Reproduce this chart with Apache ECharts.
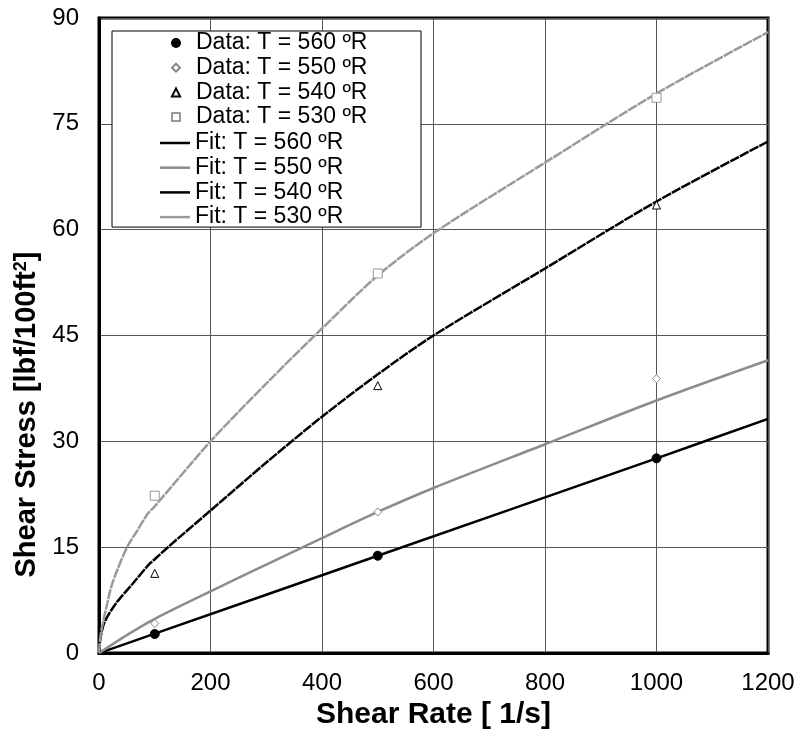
<!DOCTYPE html>
<html>
<head>
<meta charset="utf-8">
<script src="https://cdn.jsdelivr.net/npm/echarts@6/dist/echarts.min.js"></script>
<style>
  html, body { margin: 0; padding: 0; background: #fff; }
  #main { width: 799px; height: 735px; }
</style>
</head>
<body>
<div id="main"></div>
<script>
// measured points
const rateData = [100, 500, 1000];
const data560 = [2.7, 13.8, 27.6];
const data550 = [4.2, 20.0, 38.9];
const data540 = [11.3, 37.9, 63.5];
const data530 = [22.3, 53.8, 78.7];

// fitted curves
const rate560 = [0, 100, 500, 1000, 1200];
const fit560 = [0, 2.75, 13.8, 27.6, 33.2];

const rate550 = [0, 50, 100, 200, 300, 400, 500, 600, 800, 1000, 1200];
const fit550 = [0, 2.55, 4.85, 8.75, 12.55, 16.3, 20.0, 23.4, 29.6, 35.8, 41.5];

const rate540 = [0, 3, 10, 30, 60, 90, 100, 125, 200, 300, 400, 500, 600, 800, 1000, 1200];
const fit540 = [0, 2.3, 4.4, 7.0, 9.8, 12.6, 13.3, 15.1, 20.2, 27.0, 33.5, 39.5, 45.0, 54.5, 64.0, 72.5];

const rate530 = [0, 3, 7, 15, 22, 33, 51, 69, 87, 100, 200, 300, 400, 500, 600, 800, 1000, 1200];
const fit530 = [0, 2.6, 4.3, 7.1, 9.4, 11.8, 15.1, 17.4, 19.7, 20.8, 30.0, 38.2, 46.0, 53.5, 59.5, 69.5, 79.3, 88.0];

const dataNames = ['Data: T = 560 ºR', 'Data: T = 550 ºR', 'Data: T = 540 ºR', 'Data: T = 530 ºR'];
const fitNames = ['Fit: T = 560 ºR', 'Fit: T = 550 ºR', 'Fit: T = 540 ºR', 'Fit: T = 530 ºR'];

const xTicks = { min: 0, max: 1200, interval: 200 };
const yTicks = { min: 0, max: 90, interval: 15 };

const FONT = '"Liberation Sans", Arial, sans-serif';
const LINE_ICON = 'path://M0,0H24V2H0Z';

function pairs(xs, ys) {
  return xs.map((x, i) => [x, ys[i]]);
}

const chart = echarts.init(document.getElementById('main'), null, { renderer: 'canvas' });

const dataSeries = (name, ys, symbol, size, fill, border) => ({
  name: name,
  type: 'scatter',
  data: pairs(rateData, ys),
  symbol: symbol,
  symbolSize: size,
  z: 5,
  itemStyle: { color: fill, borderColor: border, borderWidth: 1, opacity: 1 }
});

const fitSeries = (name, xs, ys, color, width, dash) => ({
  name: name,
  type: 'line',
  data: pairs(xs, ys),
  showSymbol: false,
  symbol: 'none',
  smooth: 0.3,
  z: 3,
  itemStyle: { color: color },
  lineStyle: { color: color, width: width, type: dash || 'solid' }
});

const legendText = { fontSize: 23, lineHeight: 24, color: '#000', fontFamily: FONT };

chart.setOption({
  animation: false,
  backgroundColor: '#fff',
  textStyle: { fontFamily: FONT },
  grid: {
    left: 99, right: 31, top: 18, bottom: 72,
    show: true, borderColor: '#000', borderWidth: 3
  },
  legend: [
    {
      // data entries; its box also frames the fit entries below
      orient: 'vertical',
      left: 112, top: 31, z: 3,
      padding: [0, 45, 98, 59],
      itemWidth: 8, itemHeight: 8,
      itemGap: 0.7,
      backgroundColor: '#fff',
      borderColor: '#000', borderWidth: 1,
      textStyle: Object.assign({ padding: [0, 0, 0, 11], width: 180 }, legendText),
      data: [
        { name: dataNames[0], icon: 'circle' },
        { name: dataNames[1], icon: 'diamond' },
        { name: dataNames[2], icon: 'triangle' },
        { name: dataNames[3], icon: 'rect' }
      ]
    },
    {
      orient: 'vertical',
      left: 160, top: 131, z: 4,
      padding: 0,
      itemWidth: 30, itemHeight: 8,
      itemGap: 0.7,
      textStyle: legendText,
      data: fitNames.map(n => ({ name: n, icon: LINE_ICON }))
    }
  ],
  xAxis: {
    type: 'value',
    min: xTicks.min, max: xTicks.max, interval: xTicks.interval,
    name: 'Shear Rate [ 1/s]',
    nameLocation: 'middle',
    nameGap: 44,
    nameTextStyle: { fontSize: 30, fontWeight: 'bold', color: '#000', fontFamily: FONT },
    axisLine: { lineStyle: { color: '#000', width: 3 } },
    axisTick: { show: false },
    axisLabel: { fontSize: 24, color: '#000', margin: 18, fontFamily: FONT, formatter: v => String(v) },
    splitLine: { lineStyle: { color: '#555', width: 1 } }
  },
  yAxis: {
    type: 'value',
    min: yTicks.min, max: yTicks.max, interval: yTicks.interval,
    name: 'Shear Stress [lbf/100ft{sup|2}]',
    nameLocation: 'middle',
    nameGap: 57,
    nameTextStyle: {
      fontSize: 29, fontWeight: 'bold', color: '#000', fontFamily: FONT,
      padding: [0, 158, 0, 0],
      rich: { sup: { fontSize: 18, fontWeight: 'bold', verticalAlign: 'top', padding: [0, 0, 12, 0], fontFamily: FONT } }
    },
    axisLine: { lineStyle: { color: '#000', width: 3 } },
    axisTick: { show: false },
    axisLabel: { fontSize: 24, color: '#000', margin: 20, fontFamily: FONT },
    splitLine: { lineStyle: { color: '#555', width: 1 } }
  },
  series: [
    fitSeries(fitNames[0], rate560, fit560, '#000', 2.5),
    fitSeries(fitNames[1], rate550, fit550, '#8c8c8c', 2.5),
    fitSeries(fitNames[2], rate540, fit540, '#000', 2.5, [10, 1]),
    fitSeries(fitNames[3], rate530, fit530, '#9a9a9a', 2.5, [10, 1]),
    dataSeries(dataNames[0], data560, 'circle', 9, '#000', '#000'),
    dataSeries(dataNames[1], data550, 'diamond', 8, '#fff', '#888'),
    dataSeries(dataNames[2], data540, 'triangle', 8, '#fff', '#000'),
    dataSeries(dataNames[3], data530, 'rect', 9, '#fff', '#999')
  ]
});
</script>
</body>
</html>
